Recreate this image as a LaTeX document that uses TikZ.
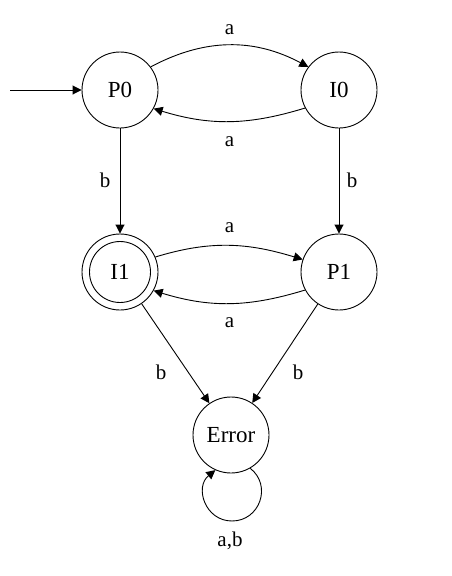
\documentclass[tikz,border=0pt]{standalone}
\usepackage{fontspec}
\setmainfont{Liberation Serif}
\usetikzlibrary{arrows.meta}
\begin{document}
\begin{tikzpicture}[x=1pt,y=1pt,
    state/.style={circle,draw,line width=0.9pt,minimum size=76pt,inner sep=0pt,
                  font=\fontsize{23}{27}\selectfont},
    edge/.style={line width=0.9pt,-{Triangle[length=9pt,width=9pt]}},
    lbl/.style={inner sep=0pt,font=\fontsize{21}{25}\selectfont}]
  \useasboundingbox (0,0) rectangle (451,-576);

  % states
  \node[state] (P0) at (120,-90) {P0};
  \node[state] (I0) at (339,-90) {I0};
  \node[state] (I1) at (120,-272) {I1};
  \node[state] (P1) at (339,-272) {P1};
  \node[state] (E)  at (231,-435) {Error};
  \draw[line width=0.9pt] (I1.center) circle (30.5);

  % initial arrow
  \coordinate (start) at (10,-90);
  \draw[edge] (start) -- (P0.west);

  % transitions between P0 and I0
  \draw[edge] (P0.37) to[out=28,in=152] (I0.143);
  \draw[edge] (I0.208) to[out=197,in=-17] (P0.-29);
  \node[lbl] at (229.5,-30) {a};
  \node[lbl] at (229.5,-142) {a};

  % downward transitions
  \draw[edge] (P0.south) -- (I1.north);
  \draw[edge] (I0.south) -- (P1.north);
  \node[lbl] at (105,-180.5) {b};
  \node[lbl] at (352,-180.5) {b};

  % transitions between I1 and P1
  \draw[edge] (I1.23) to[out=17,in=163] (P1.161);
  \draw[edge] (P1.208) to[out=197,in=-17] (I1.-29);
  \node[lbl] at (229.5,-228) {a};
  \node[lbl] at (229.5,-323) {a};

  % into the error state
  \draw[edge] (I1) -- (E);
  \draw[edge] (P1) -- (E);
  \node[lbl] at (161,-372) {b};
  \node[lbl] at (298,-372) {b};

  % self loop on the error state
  \coordinate (loopbot) at (232,-521);
  \draw[edge] (E.-60) .. controls +(22,-17) and +(28,0) .. (loopbot)
                      .. controls +(-27,0) and +(-21,-17) .. (E.-114);
  \node[lbl] at (230,-541) {a,b};
\end{tikzpicture}
\end{document}
